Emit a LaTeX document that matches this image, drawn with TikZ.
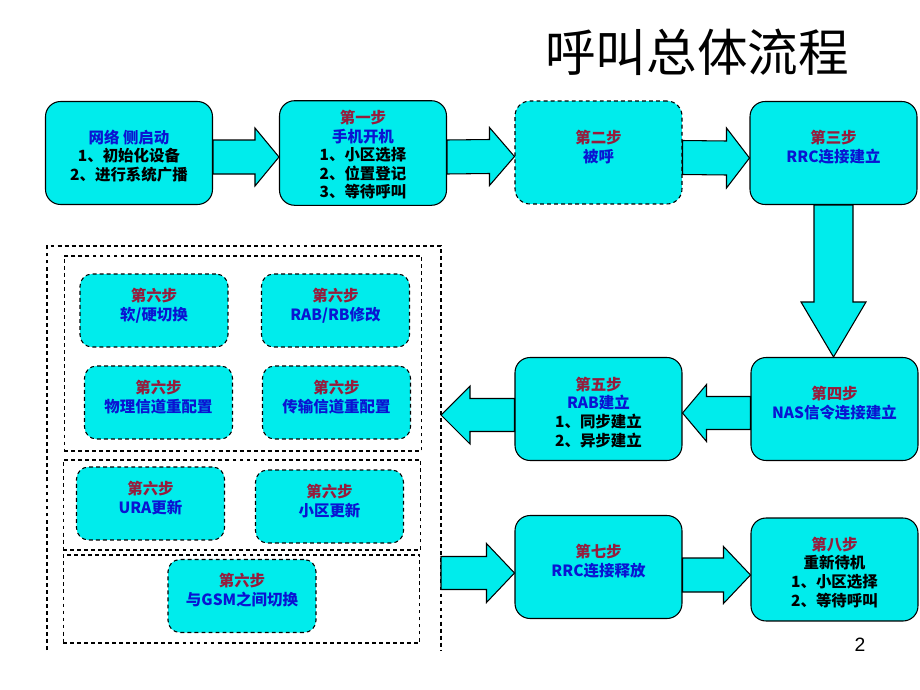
\documentclass[tikz,border=0pt]{standalone}
\usepackage{fontspec}
\usetikzlibrary{calc}
\setmainfont{Liberation Sans}
\newfontfamily\cjk{Noto Sans CJK SC}
\definecolor{boxcyan}{RGB}{0,236,236}
\definecolor{stepred}{RGB}{150,28,60}
\definecolor{actblue}{RGB}{10,20,210}
\newcommand{\stepno}[1]{\textcolor{stepred}{#1}}
\newcommand{\act}[1]{\textcolor{actblue}{#1}}
\newcommand{\harrow}[5]{\draw[blockarrow] ($(#1)+(0,-#3)$) -- ($(#2)+({-(#5)},-#3)$) -- ($(#2)+({-(#5)},-#4)$) -- (#2) -- ($(#2)+({-(#5)},#4)$) -- ($(#2)+({-(#5)},#3)$) -- ($(#1)+(0,#3)$) -- cycle;}
\newcommand{\varrow}[5]{\draw[blockarrow] ($(#1)+(-#3,0)$) -- ($(#2)+(-#3,-#5)$) -- ($(#2)+(-#4,-#5)$) -- (#2) -- ($(#2)+(#4,-#5)$) -- ($(#2)+(#3,-#5)$) -- ($(#1)+(#3,0)$) -- cycle;}

\begin{document}
\begin{tikzpicture}[x=0.02cm, y=-0.02cm,
  box/.style={draw, fill=boxcyan, line width=0.6pt, rounded corners=0.3cm, minimum width=3.34cm, minimum height=2.06cm, align=center, font=\cjk\bfseries\fontsize{8.8}{10.6}\selectfont},
  lowtext/.style={text height=#1},
  hightext/.style={text depth=7.4pt},
  shortdash/.style={dash pattern=on 2.2pt off 1.8pt},
  subbox/.style={box, hightext, shortdash, rounded corners=0.24cm, minimum width=2.96cm, minimum height=1.46cm},
  group/.style={draw, shortdash, line width=0.6pt},
  blockarrow/.style={draw, fill=boxcyan, line width=0.6pt}]
	\useasboundingbox (0,0) rectangle (920,690);

	\node[font=\cjk\fontsize{28.8}{32}\selectfont] (title) at (697,52) {呼叫总体流程};
	\node[font=\fontsize{11}{12}\selectfont] (pgno) at (860,645) {2};

	\node[box, lowtext=32pt] (b0) at (129,153) {\act{网络 侧启动}\\1、初始化设备\\2、进行系统广播};
	\node[box, lowtext=52pt] (b1) at (363,153) {\stepno{第一步}\\\act{手机开机}\\1、小区选择\\2、位置登记\\3、等待呼叫};
	\node[box, hightext, shortdash] (b2) at (598.5,152.5) {\stepno{第二步}\\\act{被呼}};
	\node[box, hightext] (b3) at (833.5,153) {\stepno{第三步}\\\act{RRC连接建立}};
	\node[box, hightext] (b4) at (834.5,409) {\stepno{第四步}\\\act{NAS信令连接建立}};
	\node[box, lowtext=43pt] (b5) at (598.5,409) {\stepno{第五步}\\\act{RAB建立}\\1、同步建立\\2、异步建立};
	\node[box, hightext] (b7) at (598.5,567) {\stepno{第七步}\\\act{RRC连接释放}};
	\node[box, lowtext=42.5pt] (b8) at (834.5,569.5) {\stepno{第八步}\\重新待机\\1、小区选择\\2、等待呼叫};

	\coordinate (grpnw) at (47,246);
	\coordinate (grpse) at (441,650);
	\draw[group] (grpnw |- grpse) -- (grpnw) -- (grpnw -| grpse) -- (grpse);
	\node[group, minimum width=7.16cm, minimum height=3.9cm] (g1) at (243,353.5) {};
	\node[group, minimum width=7.16cm, minimum height=1.8cm] (g2) at (242,505) {};
	\node[group, minimum width=7.14cm, minimum height=1.76cm] (g3) at (241.5,599) {};

	\node[subbox] (s1) at (154,310.5) {\stepno{第六步}\\\act{软/硬切换}};
	\node[subbox] (s2) at (335.5,310.5) {\stepno{第六步}\\\act{RAB/RB修改}};
	\node[subbox] (s3) at (158.5,402.5) {\stepno{第六步}\\\act{物理信道重配置}};
	\node[subbox] (s4) at (336.5,402.5) {\stepno{第六步}\\\act{传输信道重配置}};
	\node[subbox] (s5) at (150.5,503.5) {\stepno{第六步}\\\act{URA更新}};
	\node[subbox] (s6) at (329.5,506.5) {\stepno{第六步}\\\act{小区更新}};
	\node[subbox] (s7) at (242,596) {\stepno{第六步}\\\act{与GSM之间切换}};

	\coordinate (a01s) at ($(b0.east)+(0,4)$);
	\coordinate (a01t) at ($(b1.west)+(0,4)$);
	\coordinate (a12s) at ($(b1.east)+(0,4)$);
	\coordinate (a12t) at ($(b2.west)+(0,4)$);
	\coordinate (a23s) at ($(b2.east)+(0,5)$);
	\coordinate (a23t) at ($(b3.west)+(0,5)$);
	\coordinate (a34t) at (b3.south |- b4.north);
	\coordinate (a45s) at ($(b4.west)+(0,4)$);
	\coordinate (a45t) at ($(b5.east)+(0,4)$);
	\coordinate (a56s) at ($(b5.west)+(0,6)$);
	\coordinate (a56t) at (grpse |- a56s);
	\coordinate (a67t) at ($(b7.west)+(0,6)$);
	\coordinate (a67s) at (grpse |- a67t);
	\coordinate (a78s) at ($(b7.east)+(0,8)$);
	\coordinate (a78t) at (b8.west |- a78s);

	\harrow{a01s}{a01t}{17}{29}{24}
	\harrow{a12s}{a12t}{17}{29}{25}
	\harrow{a23s}{a23t}{17}{30}{23}
	\varrow{b3.south}{a34t}{19.5}{32.5}{55}
	\harrow{a45s}{a45t}{16.5}{28.5}{-24}
	\harrow{a56s}{a56t}{16.5}{29}{-29}
	\harrow{a67s}{a67t}{16.5}{29.5}{28}
	\harrow{a78s}{a78t}{17}{28.5}{27}
\end{tikzpicture}
\end{document}
